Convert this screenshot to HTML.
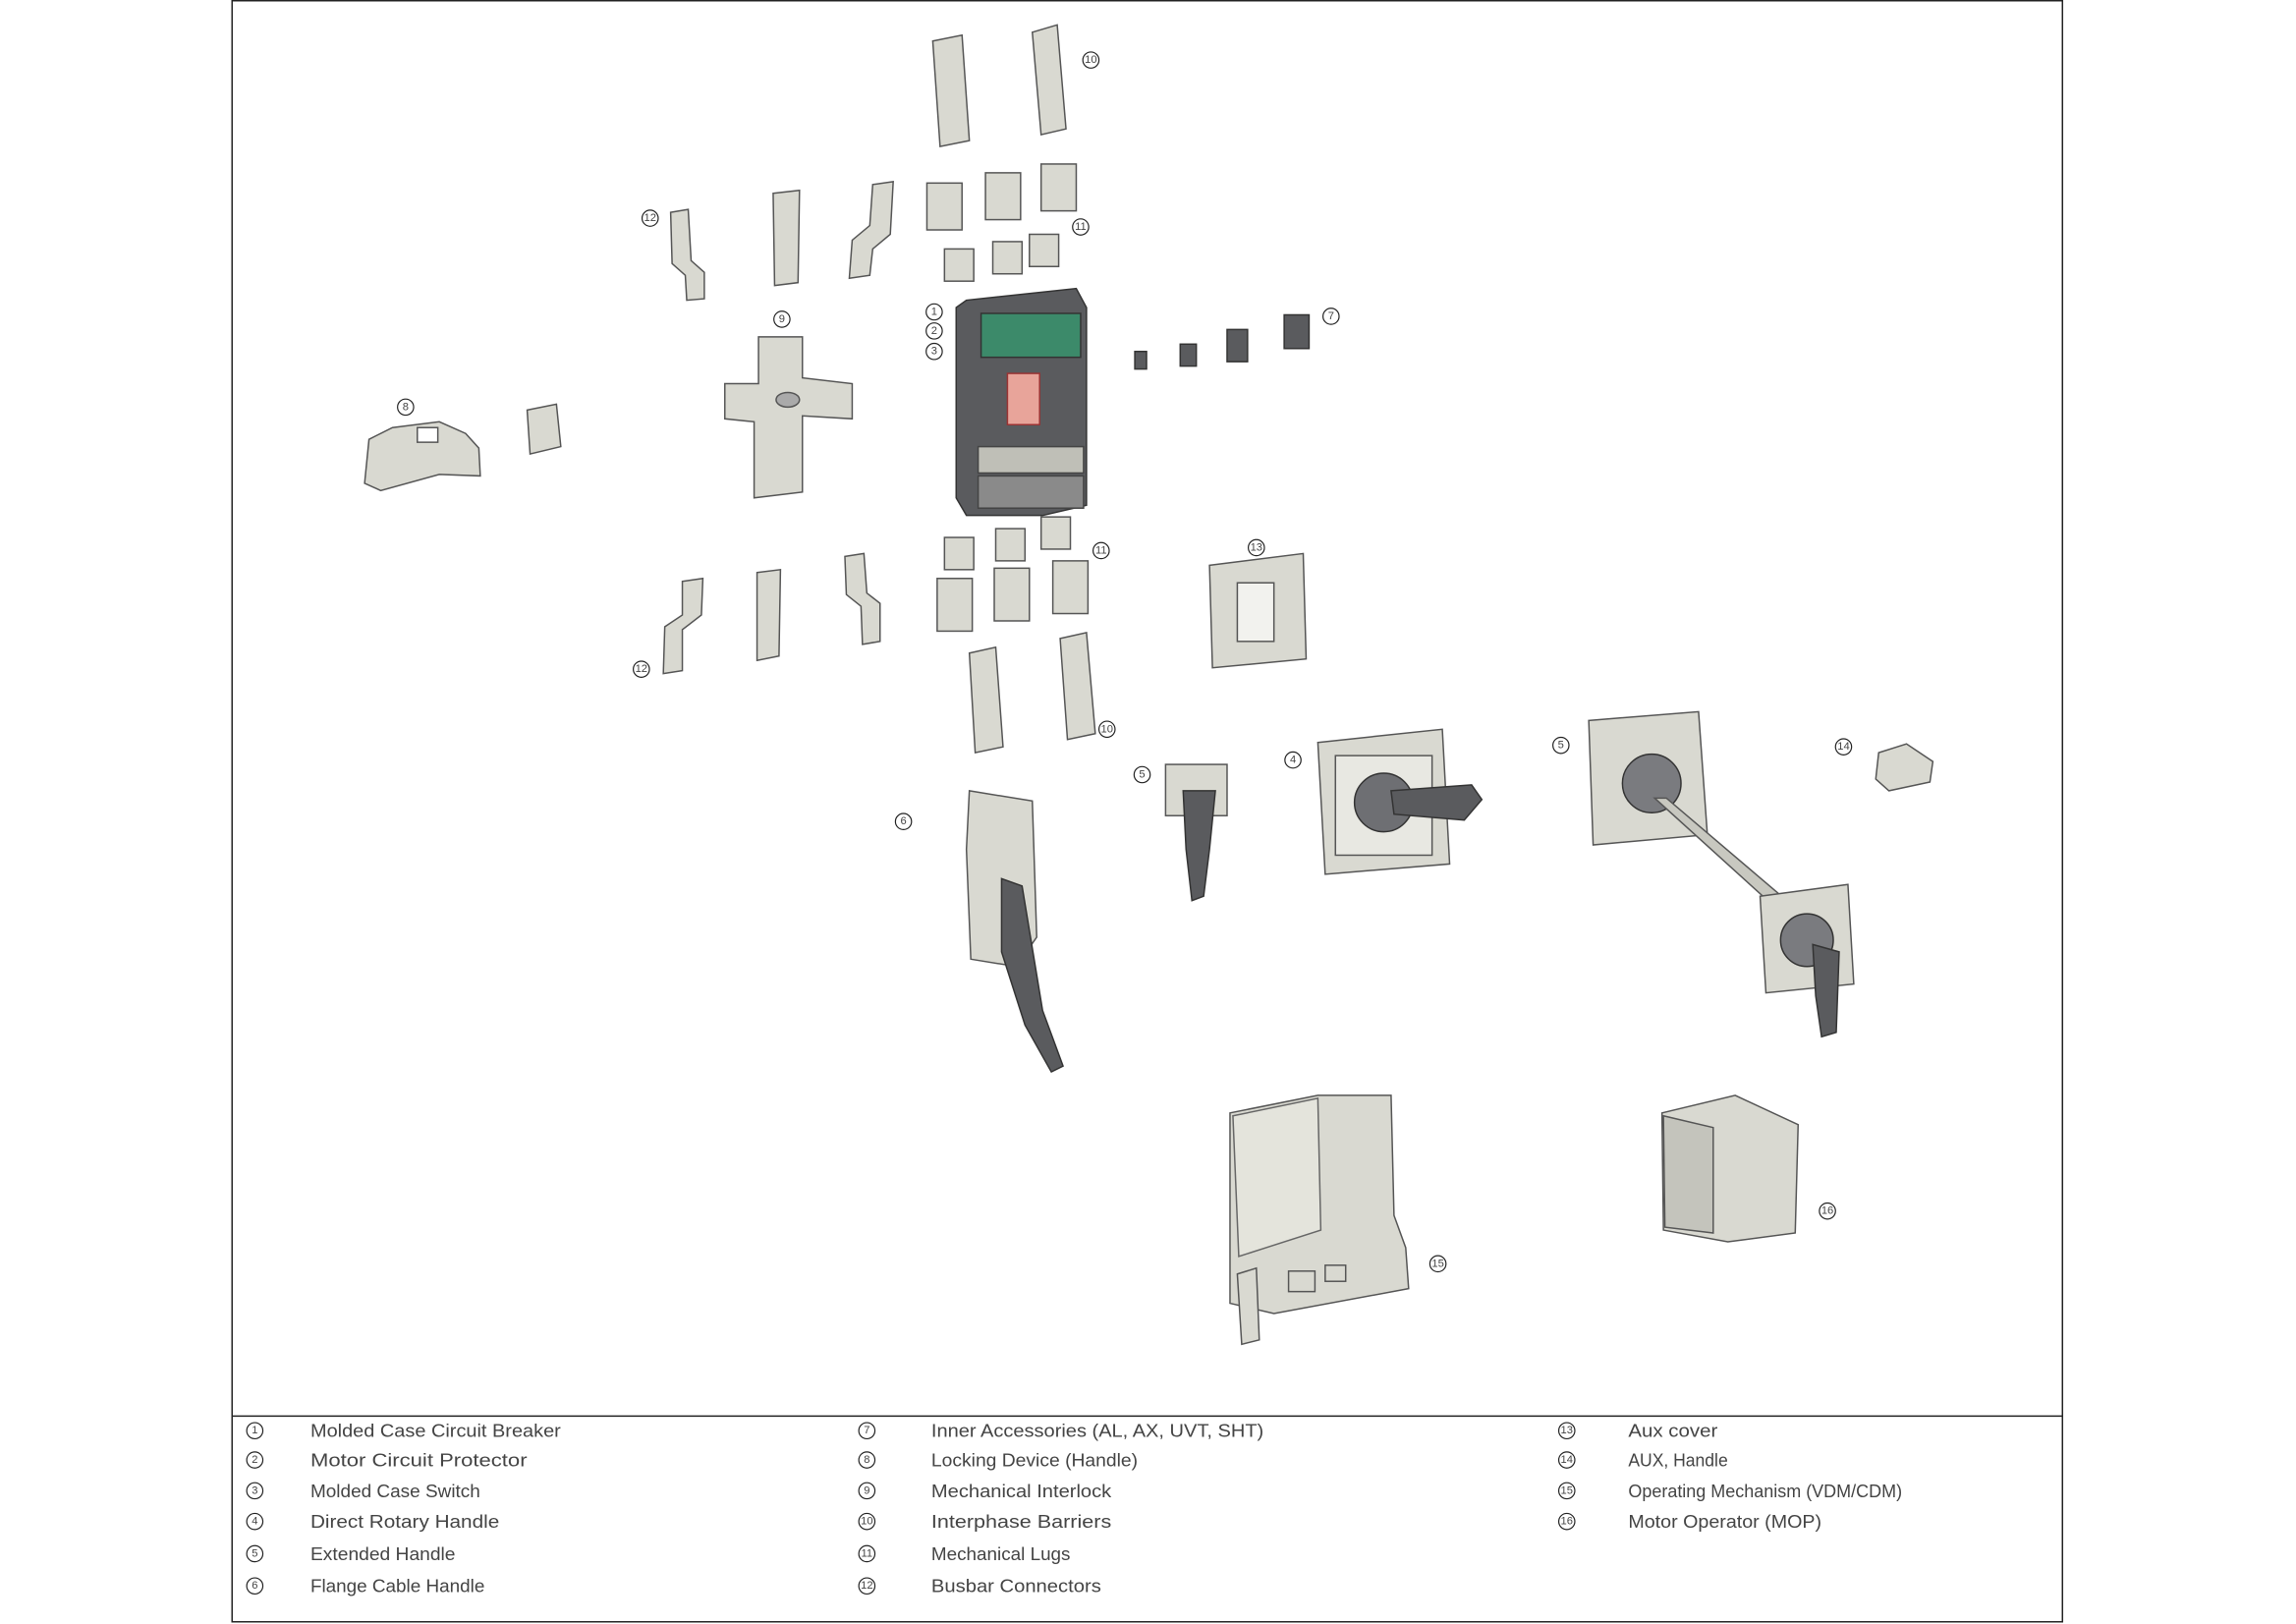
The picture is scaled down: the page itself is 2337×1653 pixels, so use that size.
<!DOCTYPE html>
<html><head><meta charset="utf-8"><style>
html,body{margin:0;padding:0;background:#fff;}
svg{display:block}
text{font-family:"Liberation Sans",sans-serif;fill:#444;}
.p{fill:#d9d9d1;stroke:#555;stroke-width:1}
.d{fill:#5a5b5e;stroke:#333;stroke-width:1}
.c{fill:none;stroke:#222;stroke-width:0.8}
.n{font-size:7.5px;text-anchor:middle;dominant-baseline:central}
.l{font-size:12.5px;dominant-baseline:central}
</style></head><body>
<svg width="2337" height="1653" viewBox="0 0 1568 1109" preserveAspectRatio="none" xmlns="http://www.w3.org/2000/svg">
<rect x="158.5" y="0.5" width="1250" height="1107" fill="none" stroke="#222" stroke-width="1"/>
<line x1="158.5" y1="967" x2="1408.5" y2="967" stroke="#222" stroke-width="1"/>

<polygon class="p" points="637,28 657,24 662,96 642,100"/>
<polygon class="p" points="705,22 722,17 728,88 711,92"/>
<g class="p">
<rect x="633" y="125" width="24" height="32"/><rect x="673" y="118" width="24" height="32"/><rect x="711" y="112" width="24" height="32"/>
<rect x="645" y="170" width="20" height="22"/><rect x="678" y="165" width="20" height="22"/><rect x="703" y="160" width="20" height="22"/>
</g>
<polygon class="p" points="458,145 470,143 472,178 481,186 481,204 469,205 468,188 459,180"/>
<polygon class="p" points="528,132 546,130 545,193 529,195"/>
<polygon class="p" points="596,126 610,124 608,160 596,170 594,188 580,190 582,164 594,154"/>
<polygon class="p" points="518,230 548,230 548,258 582,262 582,286 548,284 548,336 515,340 515,288 495,286 495,262 518,262"/>
<ellipse cx="538" cy="273" rx="8" ry="5" fill="#aaa" stroke="#555"/>
<polygon class="p" points="252,300 268,292 300,288 318,296 327,306 328,325 300,324 260,335 249,330"/>
<rect x="285" y="292" width="14" height="10" fill="#fff" stroke="#555"/>
<polygon class="p" points="360,280 380,276 383,305 362,310"/>
<polygon class="d" points="660,205 735,197 742,210 742,345 712,352 660,352 653,340 653,210"/>
<rect x="670" y="214" width="68" height="30" fill="#3c8a6a" stroke="#333"/>
<rect x="688" y="255" width="22" height="35" fill="#e8a49a" stroke="#933"/>
<rect x="668" y="305" width="72" height="18" fill="#bfbfb7" stroke="#444"/>
<rect x="668" y="325" width="72" height="22" fill="#8a8a8a" stroke="#444"/>
<g class="d"><rect x="775" y="240" width="8" height="12"/><rect x="806" y="235" width="11" height="15"/><rect x="838" y="225" width="14" height="22"/><rect x="877" y="215" width="17" height="23"/></g>
<g class="p">
<rect x="645" y="367" width="20" height="22"/><rect x="680" y="361" width="20" height="22"/><rect x="711" y="353" width="20" height="22"/>
<rect x="640" y="395" width="24" height="36"/><rect x="679" y="388" width="24" height="36"/><rect x="719" y="383" width="24" height="36"/>
</g>
<polygon class="p" points="466,397 480,395 479,420 466,430 466,458 453,460 454,428 466,420"/>
<polygon class="p" points="517,391 533,389 532,448 517,451"/>
<polygon class="p" points="577,380 590,378 592,405 601,412 601,438 589,440 588,414 578,406"/>
<polygon class="p" points="662,446 680,442 685,510 666,514"/>
<polygon class="p" points="724,436 742,432 748,501 729,505"/>
<polygon class="p" points="826,386 890,378 892,450 828,456"/>
<rect x="845" y="398" width="25" height="40" fill="#f2f2ee" stroke="#555"/>
<polygon class="p" points="662,540 705,547 708,640 694,660 663,655 660,580"/>
<polygon class="d" points="684,600 698,605 712,690 726,728 718,732 700,700 684,650"/>
<rect x="796" y="522" width="42" height="35" class="p"/>
<polygon class="d" points="808,540 830,540 826,580 822,612 814,615 810,580"/>
<polygon class="p" points="900,507 985,498 990,590 905,597"/>
<rect x="912" y="516" width="66" height="68" fill="#e8e8e2" stroke="#555"/>
<circle cx="945" cy="548" r="20" fill="#6e6f73" stroke="#333"/>
<polygon class="d" points="950,540 1005,536 1012,546 1000,560 952,556"/>
<polygon class="p" points="1085,492 1160,486 1166,570 1088,577"/>
<circle cx="1128" cy="535" r="20" fill="#7a7b7f" stroke="#333"/>
<polygon points="1130,545 1138,545 1232,625 1226,632" fill="#c8c8c0" stroke="#555"/>
<polygon class="p" points="1202,612 1262,604 1266,672 1206,678"/>
<circle cx="1234" cy="642" r="18" fill="#7a7b7f" stroke="#333"/>
<polygon class="d" points="1238,645 1256,650 1254,705 1244,708 1240,680"/>
<polygon class="p" points="1283,514 1302,508 1320,520 1318,534 1290,540 1281,532"/>
<polygon class="p" points="840,760 900,748 950,748 952,830 960,852 962,880 870,897 840,890"/>
<polygon points="842,762 900,750 902,840 846,858" fill="#e4e4dc" stroke="#666"/>
<polygon class="p" points="845,870 858,866 860,915 848,918"/>
<rect x="880" y="868" width="18" height="14" fill="none" stroke="#555"/>
<rect x="905" y="864" width="14" height="11" fill="none" stroke="#555"/>
<polygon class="p" points="1135,760 1185,748 1228,768 1226,842 1180,848 1136,840"/>
<polygon points="1136,762 1170,770 1170,842 1137,838" fill="#c4c4bc" stroke="#555"/>

<g>
<circle class="c" cx="745" cy="41" r="5.5"/><text class="n" x="745" y="41">10</text>
<circle class="c" cx="738" cy="155" r="5.5"/><text class="n" x="738" y="155">11</text>
<circle class="c" cx="444" cy="149" r="5.5"/><text class="n" x="444" y="149">12</text>
<circle class="c" cx="534" cy="218" r="5.5"/><text class="n" x="534" y="218">9</text>
<circle class="c" cx="277" cy="278" r="5.5"/><text class="n" x="277" y="278">8</text>
<circle class="c" cx="638" cy="213" r="5.5"/><text class="n" x="638" y="213">1</text>
<circle class="c" cx="638" cy="226" r="5.5"/><text class="n" x="638" y="226">2</text>
<circle class="c" cx="638" cy="240" r="5.5"/><text class="n" x="638" y="240">3</text>
<circle class="c" cx="909" cy="216" r="5.5"/><text class="n" x="909" y="216">7</text>
<circle class="c" cx="752" cy="376" r="5.5"/><text class="n" x="752" y="376">11</text>
<circle class="c" cx="438" cy="457" r="5.5"/><text class="n" x="438" y="457">12</text>
<circle class="c" cx="756" cy="498" r="5.5"/><text class="n" x="756" y="498">10</text>
<circle class="c" cx="858" cy="374" r="5.5"/><text class="n" x="858" y="374">13</text>
<circle class="c" cx="617" cy="561" r="5.5"/><text class="n" x="617" y="561">6</text>
<circle class="c" cx="780" cy="529" r="5.5"/><text class="n" x="780" y="529">5</text>
<circle class="c" cx="883" cy="519" r="5.5"/><text class="n" x="883" y="519">4</text>
<circle class="c" cx="1066" cy="509" r="5.5"/><text class="n" x="1066" y="509">5</text>
<circle class="c" cx="1259" cy="510" r="5.5"/><text class="n" x="1259" y="510">14</text>
<circle class="c" cx="982" cy="863" r="5.5"/><text class="n" x="982" y="863">15</text>
<circle class="c" cx="1248" cy="827" r="5.5"/><text class="n" x="1248" y="827">16</text>
</g>

<g>
<circle class="c" cx="174" cy="977" r="5.5"/><text class="n" x="174" y="977">1</text><text class="l" x="212" y="977" textLength="171" lengthAdjust="spacingAndGlyphs">Molded Case Circuit Breaker</text>
<circle class="c" cx="174" cy="997" r="5.5"/><text class="n" x="174" y="997">2</text><text class="l" x="212" y="997" textLength="148" lengthAdjust="spacingAndGlyphs">Motor Circuit Protector</text>
<circle class="c" cx="174" cy="1018" r="5.5"/><text class="n" x="174" y="1018">3</text><text class="l" x="212" y="1018" textLength="116" lengthAdjust="spacingAndGlyphs">Molded Case Switch</text>
<circle class="c" cx="174" cy="1039" r="5.5"/><text class="n" x="174" y="1039">4</text><text class="l" x="212" y="1039" textLength="129" lengthAdjust="spacingAndGlyphs">Direct Rotary Handle</text>
<circle class="c" cx="174" cy="1061" r="5.5"/><text class="n" x="174" y="1061">5</text><text class="l" x="212" y="1061" textLength="99" lengthAdjust="spacingAndGlyphs">Extended Handle</text>
<circle class="c" cx="174" cy="1083" r="5.5"/><text class="n" x="174" y="1083">6</text><text class="l" x="212" y="1083" textLength="119" lengthAdjust="spacingAndGlyphs">Flange Cable Handle</text>

<circle class="c" cx="592" cy="977" r="5.5"/><text class="n" x="592" y="977">7</text><text class="l" x="636" y="977" textLength="227" lengthAdjust="spacingAndGlyphs">Inner Accessories (AL, AX, UVT, SHT)</text>
<circle class="c" cx="592" cy="997" r="5.5"/><text class="n" x="592" y="997">8</text><text class="l" x="636" y="997" textLength="141" lengthAdjust="spacingAndGlyphs">Locking Device (Handle)</text>
<circle class="c" cx="592" cy="1018" r="5.5"/><text class="n" x="592" y="1018">9</text><text class="l" x="636" y="1018" textLength="123" lengthAdjust="spacingAndGlyphs">Mechanical Interlock</text>
<circle class="c" cx="592" cy="1039" r="5.5"/><text class="n" x="592" y="1039">10</text><text class="l" x="636" y="1039" textLength="123" lengthAdjust="spacingAndGlyphs">Interphase Barriers</text>
<circle class="c" cx="592" cy="1061" r="5.5"/><text class="n" x="592" y="1061">11</text><text class="l" x="636" y="1061" textLength="95" lengthAdjust="spacingAndGlyphs">Mechanical Lugs</text>
<circle class="c" cx="592" cy="1083" r="5.5"/><text class="n" x="592" y="1083">12</text><text class="l" x="636" y="1083" textLength="116" lengthAdjust="spacingAndGlyphs">Busbar Connectors</text>

<circle class="c" cx="1070" cy="977" r="5.5"/><text class="n" x="1070" y="977">13</text><text class="l" x="1112" y="977" textLength="61" lengthAdjust="spacingAndGlyphs">Aux cover</text>
<circle class="c" cx="1070" cy="997" r="5.5"/><text class="n" x="1070" y="997">14</text><text class="l" x="1112" y="997" textLength="68" lengthAdjust="spacingAndGlyphs">AUX, Handle</text>
<circle class="c" cx="1070" cy="1018" r="5.5"/><text class="n" x="1070" y="1018">15</text><text class="l" x="1112" y="1018" textLength="187" lengthAdjust="spacingAndGlyphs">Operating Mechanism (VDM/CDM)</text>
<circle class="c" cx="1070" cy="1039" r="5.5"/><text class="n" x="1070" y="1039">16</text><text class="l" x="1112" y="1039" textLength="132" lengthAdjust="spacingAndGlyphs">Motor Operator (MOP)</text>
</g>
</svg>
</body></html>
